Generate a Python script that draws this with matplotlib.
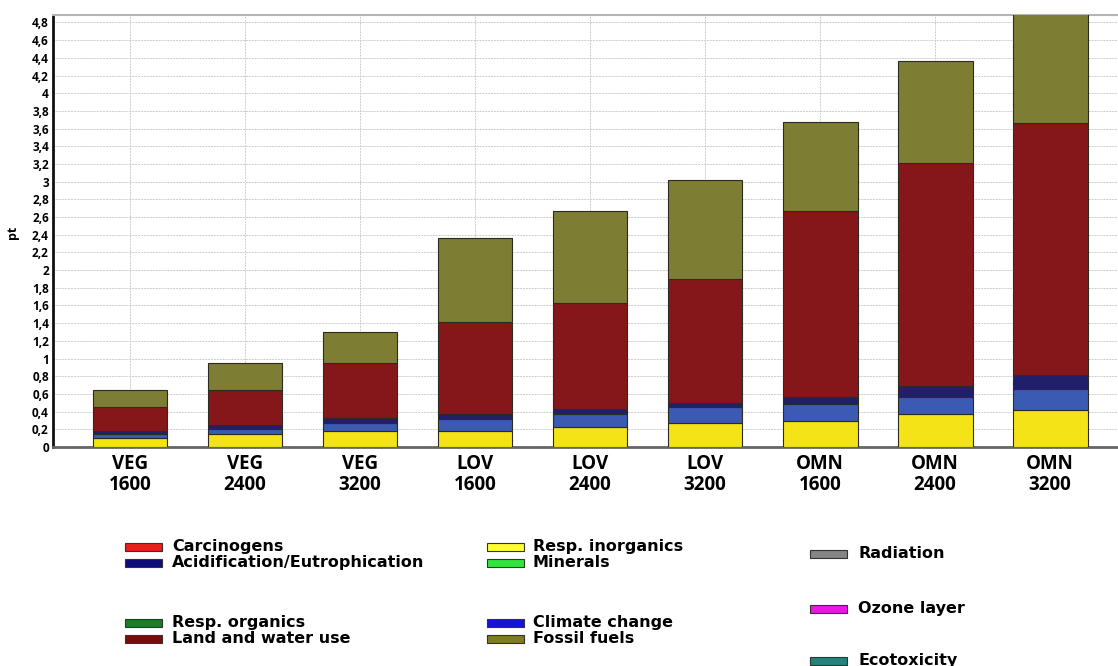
import numpy as np
import matplotlib
matplotlib.use("Agg")
import matplotlib.pyplot as plt
from matplotlib.patches import Rectangle

plt.rcParams['font.family'] = ['Open Sans', 'DejaVu Sans']
plt.rcParams['font.weight'] = 'bold'

W, H = 1118, 666

# data (pt)
diets = ["VEG\n1600", "VEG\n2400", "VEG\n3200",
         "LOV\n1600", "LOV\n2400", "LOV\n3200",
         "OMN\n1600", "OMN\n2400", "OMN\n3200"]
resp_inorganics = [0.10, 0.15, 0.18, 0.18, 0.225, 0.275, 0.29, 0.37, 0.42]
climate_change = [0.05, 0.05, 0.09, 0.14, 0.15, 0.175, 0.195, 0.20, 0.235]
acidification = [0.03, 0.05, 0.06, 0.05, 0.06, 0.05, 0.085, 0.12, 0.155]
land_water_use = [0.27, 0.39, 0.62, 1.045, 1.195, 1.405, 2.10, 2.525, 2.85]
fossil_fuels = [0.20, 0.31, 0.35, 0.95, 1.04, 1.115, 1.01, 1.15, 1.26]

stack = [
    (resp_inorganics, "#f4e417"),
    (climate_change, "#3a5ab4"),
    (acidification, "#20206a"),
    (land_water_use, "#85161a"),
    (fossil_fuels, "#7e7d34"),
]

legend_labels = ["Carcinogens", "Acidification/Eutrophication",
                 "Resp. organics", "Land and water use",
                 "Resp. inorganics", "Minerals",
                 "Climate change", "Fossil fuels",
                 "Radiation", "Ozone layer", "Ecotoxicity"]
legend_colors = ["#ee1b1b", "#0b0b7c", "#1c7d22", "#760d0d",
                 "#ffff2e", "#2fe63a", "#1414d8", "#7f7d1e",
                 "#858585", "#e916e6", "#22857c"]

fig = plt.figure(figsize=(W / 100, H / 100), dpi=100)
ax = fig.add_axes([53 / W, 1 - 447 / H, 1 - 53 / W, (447 - 14.5) / H])

x = np.arange(len(diets))
bottom = np.zeros(len(diets))
for vals, col in stack:
    ax.bar(x, vals, bottom=bottom, width=0.65, color=col,
           edgecolor="#2b2b22", linewidth=0.8, zorder=3)
    bottom += np.array(vals)

ax.set_xlim(-0.67, 8.59)
ax.set_ylim(0, 4.89)

yt = np.round(np.arange(0, 4.81, 0.2), 1)
ax.set_yticks(yt)
ax.set_yticklabels([f"{v:g}".replace(".", ",") for v in yt], fontsize=8.5, fontweight="bold")
ax.set_xticks(x)
ax.set_xticklabels(diets, fontsize=13.5, fontweight="bold", linespacing=1.05)
ax.tick_params(axis="both", length=0)
ax.tick_params(axis="y", pad=3)
ax.tick_params(axis="x", pad=5)

ax.grid(True, color="#cdcdcd", linestyle=(0, (2, 1)), linewidth=0.7)
ax.set_axisbelow(True)

ax.spines["right"].set_visible(False)
ax.spines["left"].set_color("#111111")
ax.spines["left"].set_linewidth(2)
ax.spines["bottom"].set_color("#666666")
ax.spines["bottom"].set_linewidth(2)
ax.spines["top"].set_color("#b5b5b5")
ax.spines["top"].set_linewidth(1.5)

fig.text(12 / W, 1 - 232 / H, "pt", rotation=90, fontsize=9, fontweight="bold",
         ha="center", va="center")

# legend laid out like the original (three columns, paired rows)
# (patch x, text x, text baseline y) in pixels
spots = [(125, 172, 551), (125, 172, 567),
         (125, 172, 627), (125, 172, 643),
         (487, 533, 551), (487, 533, 567),
         (487, 533, 627), (487, 533, 643),
         (810, 858, 558), (810, 858, 613), (810, 858, 665)]
for lab, col, (px, tx, ty) in zip(legend_labels, legend_colors, spots):
    py = ty - 4
    fig.add_artist(Rectangle(((px + 1) / W, 1 - (py + 5) / H), 37 / W, 8 / H,
                             transform=fig.transFigure, facecolor="#9a9a9a",
                             edgecolor="none", alpha=0.5))
    fig.add_artist(Rectangle((px / W, 1 - (py + 4) / H), 37 / W, 8 / H,
                             transform=fig.transFigure, facecolor=col,
                             edgecolor="#333333", linewidth=0.8))
    fig.text(tx / W, 1 - ty / H, lab, fontsize=11.5, fontweight="bold",
             family="DejaVu Sans", ha="left", va="baseline")

fig.savefig("out.png", dpi=100)
